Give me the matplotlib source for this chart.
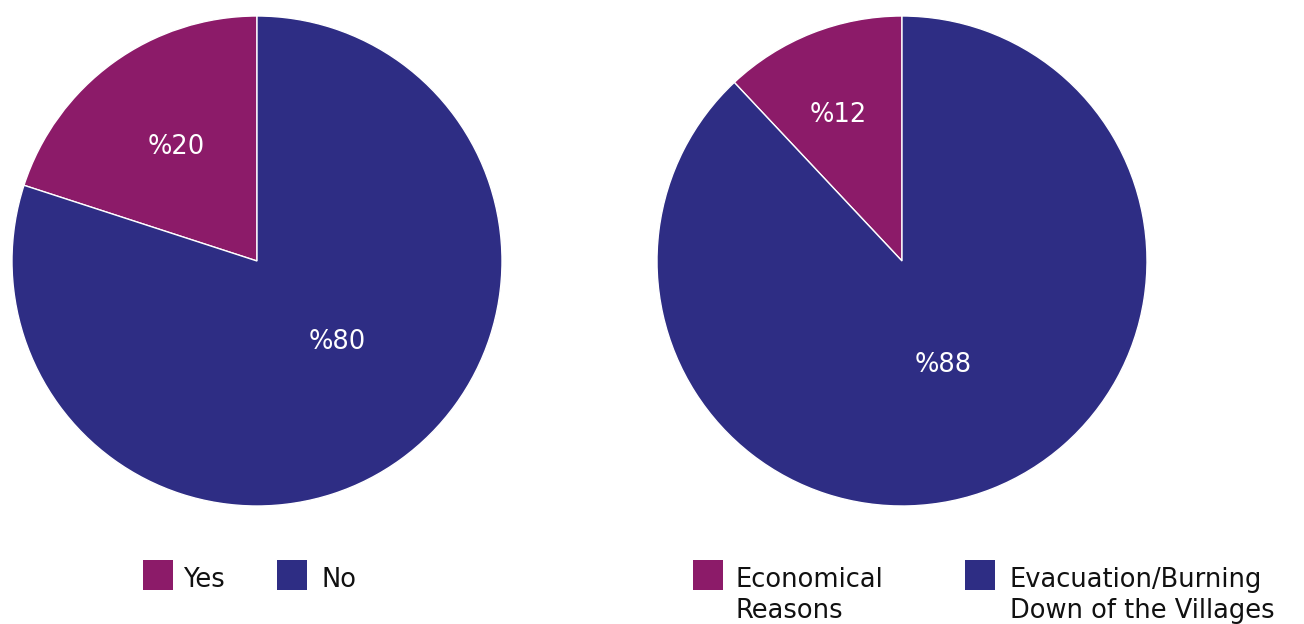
import numpy as np
import matplotlib
matplotlib.use("Agg")
import matplotlib.pyplot as plt
from matplotlib.patches import Rectangle

# Survey shares for the two questions
left_labels = ["Yes", "No"]
left_values = [20, 80]
right_labels = ["Economical\nReasons", "Evacuation/Burning\nDown of the Villages"]
right_values = [12, 88]

colors = ["#8C1B69", "#2E2D84"]
font = ["DejaVu Sans"]

W, H = 1304, 624
fig = plt.figure(figsize=(W / 100, H / 100), dpi=100)
fig.patch.set_facecolor("white")


def px_axes(cx, cy, r):
    """Axes whose [-1, 1] box maps to a pixel square centred at (cx, cy)."""
    return fig.add_axes([(cx - r) / W, (H - cy - r) / H, 2 * r / W, 2 * r / H])


def draw_pie(ax, values, label_pos):
    ax.pie(values, colors=colors, startangle=90, counterclock=True, radius=1.0,
           wedgeprops=dict(edgecolor="white", linewidth=1.0))
    ax.set_xlim(-1, 1)
    ax.set_ylim(-1, 1)
    ax.set_aspect("equal")
    ax.axis("off")
    for v, (dist, ang) in zip(values, label_pos):
        t = np.deg2rad(ang)
        ax.text(dist * np.cos(t), dist * np.sin(t), f"%{v}", color="white",
                ha="center", va="center", fontsize=18.5, family=font)


# label placement: (radius fraction, angle in degrees)
ax1 = px_axes(257, 261, 245)
draw_pie(ax1, left_values, [(0.57, 125.5), (0.465, -45.5)])

ax2 = px_axes(902, 261, 245)
draw_pie(ax2, right_values, [(0.65, 113.7), (0.457, -68.5)])


def legend_item(x, y, color):
    fig.add_artist(Rectangle((x / W, (H - y - 30) / H), 30 / W, 30 / H,
                             transform=fig.transFigure, facecolor=color,
                             edgecolor="none"))


def legend_text(x, baseline, text, step=31):
    for i, line in enumerate(text.split("\n")):
        fig.text(x / W, (H - baseline - i * step) / H, line, ha="left",
                 va="baseline", fontsize=18.5, family=font, color="#111111")


legend_item(143, 560, colors[0])
legend_text(183, 587, left_labels[0])
legend_item(277, 560, colors[1])
legend_text(321, 587, left_labels[1])

legend_item(693, 560, colors[0])
legend_text(735, 587, right_labels[0])
legend_item(965, 560, colors[1])
legend_text(1010, 587, right_labels[1])

fig.savefig("out.png", dpi=100, facecolor="white")
